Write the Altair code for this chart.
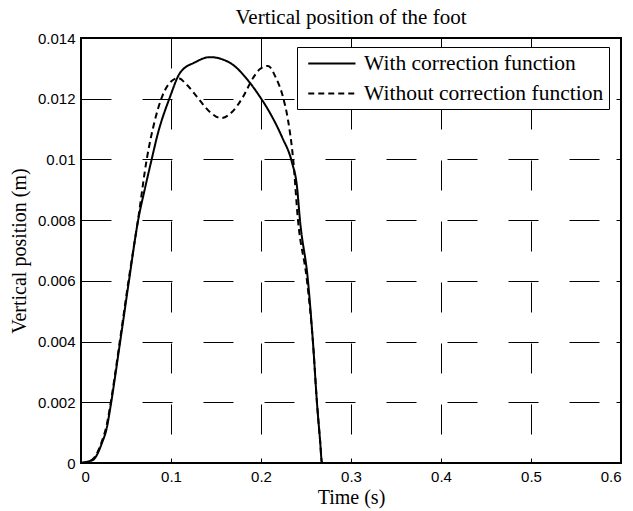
import altair as alt
import pandas as pd

# Series: with correction function (solid)
t_with = [0.0, 0.01, 0.0133, 0.0233, 0.0289, 0.0322, 0.0433, 0.0533, 0.0635, 0.0711,
          0.0789, 0.0844, 0.0989, 0.11, 0.1267, 0.1433, 0.1656, 0.1878, 0.1989, 0.21,
          0.2233, 0.2344, 0.24, 0.2433, 0.2522, 0.2578, 0.2622, 0.2656, 0.2678, 0.6]
y_with = [0.0, 0.00007, 0.0001, 0.00066, 0.00119, 0.00175, 0.00395, 0.0060, 0.0080, 0.00905,
          0.01005, 0.01074, 0.01206, 0.01285, 0.0132, 0.01337, 0.01318, 0.01252, 0.01206, 0.01153,
          0.01074, 0.0099, 0.0091, 0.0080, 0.0060, 0.00395, 0.00198, 0.00076, 0.0, 0.0]

# Series: without correction function (dashed)
t_without = [0.0, 0.01, 0.0133, 0.0233, 0.0289, 0.0322, 0.0433, 0.0533, 0.0633, 0.0733,
             0.0822, 0.09, 0.0967, 0.1078, 0.1178, 0.1289, 0.1433, 0.1556, 0.1678, 0.18,
             0.1911, 0.1989, 0.2078, 0.2167, 0.2244, 0.23, 0.2356, 0.2411, 0.2511, 0.2578,
             0.2622, 0.2656, 0.2678, 0.6]
y_without = [0.0, 0.00007, 0.00013, 0.00072, 0.0013, 0.00184, 0.00405, 0.0061, 0.0080, 0.01005,
             0.0113, 0.01206, 0.01245, 0.01268, 0.01245, 0.01206, 0.01156, 0.01136, 0.01156, 0.01206,
             0.01268, 0.01298, 0.01308, 0.01268, 0.01206, 0.0113, 0.01005, 0.0080, 0.0060, 0.00395,
             0.00198, 0.00076, 0.0, 0.0]

series_names = ["With correction function", "Without correction function"]
x_ticks = [0.0, 0.1, 0.2, 0.3, 0.4, 0.5, 0.6]
y_ticks = [0.0, 0.002, 0.004, 0.006, 0.008, 0.01, 0.012, 0.014]

rows = []
for i, (t, y) in enumerate(zip(t_with, y_with)):
    rows.append({"t": t, "y": y, "series": series_names[0], "order": i})
for i, (t, y) in enumerate(zip(t_without, y_without)):
    rows.append({"t": t, "y": y, "series": series_names[1], "order": i})
df = pd.DataFrame(rows)

xscale = alt.Scale(domain=[0, 0.6], nice=False, zero=False)
yscale = alt.Scale(domain=[0, 0.014], nice=False, zero=False)

tick_font = "Liberation Sans"
serif = "Liberation Serif"

lines = alt.Chart(df).mark_line(color="black", strokeWidth=2, interpolate="monotone").encode(
    x=alt.X("t:Q", scale=xscale, title="Time (s)",
            axis=alt.Axis(orient="bottom", values=x_ticks, format=".1~f",
                          offset=-5, tickSize=5, tickColor="black", tickWidth=1,
                          domain=False, labelPadding=6, labelFont=tick_font,
                          labelFontSize=15, labelColor="black",
                          grid=True, gridDash=[30, 31], gridColor="black",
                          gridOpacity=1, gridWidth=1,
                          titleFont=serif, titleFontSize=20, titleFontWeight="normal",
                          titleColor="black", titlePadding=3)),
    y=alt.Y("y:Q", scale=yscale, title="Vertical position (m)",
            axis=alt.Axis(orient="left", values=y_ticks, format=".3~f",
                          offset=-5, tickSize=5, tickColor="black", tickWidth=1,
                          domain=False, labelPadding=6, labelFont=tick_font,
                          labelFontSize=15, labelColor="black",
                          grid=True, gridDash=[30, 31], gridColor="black",
                          gridOpacity=1, gridWidth=1,
                          titleFont=serif, titleFontSize=20, titleFontWeight="normal",
                          titleColor="black", titlePadding=8)),
    strokeDash=alt.StrokeDash(
        "series:N",
        scale=alt.Scale(domain=series_names, range=[[1, 0], [6, 4]]),
        legend=alt.Legend(orient="none", legendX=216, legendY=9, title=None,
                          fillColor="white", strokeColor="black", padding=5,
                          symbolType="M-0.5,0H4", symbolSize=441, symbolStrokeWidth=2,
                          symbolStrokeColor="black", labelFont=serif, labelFontSize=21.5,
                          labelColor="black", labelOffset=39, rowPadding=8,
                          labelLimit=400)),
    order="order:Q",
)

frame_ticks = alt.Chart(df).mark_line(opacity=0).encode(
    x=alt.X("t:Q", scale=xscale, title=None,
            axis=alt.Axis(orient="top", values=x_ticks, labels=False, offset=-5,
                          tickSize=5, tickColor="black", tickWidth=1, domain=False,
                          grid=False)),
    y=alt.Y("y:Q", scale=yscale, title=None,
            axis=alt.Axis(orient="right", values=y_ticks, labels=False, offset=-5,
                          tickSize=5, tickColor="black", tickWidth=1, domain=False,
                          grid=False)),
    detail="series:N",
)

chart = alt.layer(lines, frame_ticks).resolve_axis(
    x="independent", y="independent"
).properties(
    width=540, height=425,
    title=alt.TitleParams("Vertical position of the foot", font=serif, fontSize=21,
                          fontWeight="normal", color="black", offset=3),
    autosize=alt.AutoSizeParams(type="none"),
    padding={"left": 81, "top": 38, "right": 12, "bottom": 48},
    background="white",
).configure_view(stroke="black", strokeWidth=2)

chart.save("out.html", embed_options={"renderer": "svg", "actions": False})
